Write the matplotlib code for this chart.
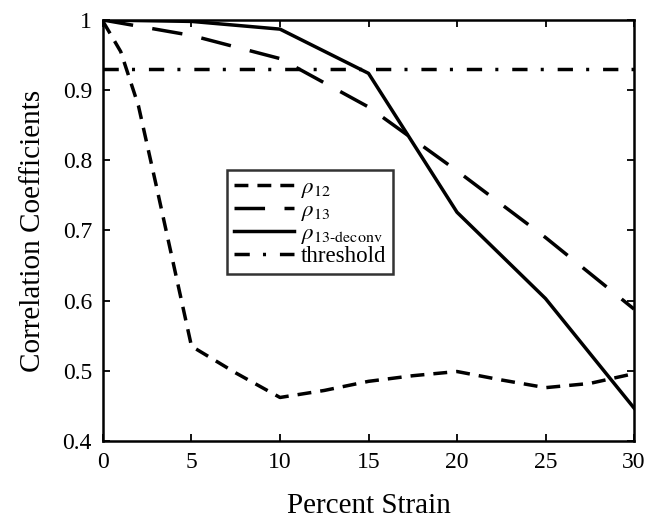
import numpy as np
import matplotlib
matplotlib.use("Agg")
import matplotlib.pyplot as plt

plt.rcParams['font.family'] = ['Liberation Serif', 'DejaVu Serif']
plt.rcParams['mathtext.fontset'] = 'stix'
plt.rcParams['lines.scale_dashes'] = False

# values
strain_12 = [0, 1, 2, 3, 4, 5, 7.5, 10, 12.5, 15, 17.5, 20, 22.5, 25, 27.5, 30]
rho12 = [0.998, 0.955, 0.878, 0.765, 0.65, 0.535, 0.497, 0.462, 0.472, 0.485,
         0.493, 0.499, 0.487, 0.476, 0.482, 0.496]
strain = [0, 5, 10, 15, 20, 25, 30]
rho13 = [1.0, 0.978, 0.945, 0.876, 0.785, 0.69, 0.588]
rho13_deconv = [1.0, 0.998, 0.987, 0.924, 0.726, 0.603, 0.447]
threshold = 0.93

fig = plt.figure(figsize=(6.49, 5.21), dpi=100)
ax = fig.add_axes([0.1587, 0.1536, 0.8182, 0.808])

ax.plot(strain_12, rho12, color='k', lw=2.5, dashes=(10, 6.5), label=r'$\rho_{12}$')
ax.plot(strain, rho13, color='k', lw=2.5, dashes=(22, 14), label=r'$\rho_{13}$')
ax.plot(strain, rho13_deconv, color='k', lw=2.5, label=r'$\rho_{13\mathrm{\text{-}deconv}}$')
ax.plot([0, 30], [threshold, threshold], color='k', lw=2.5,
        dashes=(11, 9.5, 2.2, 10), label='threshold')

ax.set_xlim(0, 30)
ax.set_ylim(0.4, 1.0)
ax.set_xticks([0, 5, 10, 15, 20, 25, 30])
ax.set_yticks([0.4, 0.5, 0.6, 0.7, 0.8, 0.9, 1.0])
ax.set_yticklabels(['0.4', '0.5', '0.6', '0.7', '0.8', '0.9', '1'])
ax.tick_params(direction='in', length=5, width=1.3, top=True, right=True,
               labelsize=17, pad=8)
for s in ax.spines.values():
    s.set_linewidth(1.8)

ax.set_xlabel('Percent Strain', fontsize=21, labelpad=14)
ax.set_ylabel('Correlation Coefficients', fontsize=21, labelpad=12)

leg = ax.legend(loc='upper left', bbox_to_anchor=(0.234, 0.644), fontsize=16.5,
                frameon=True, fancybox=False, edgecolor='k', handlelength=2.6,
                handletextpad=0.3, labelspacing=0.0, borderpad=0.3,
                borderaxespad=0)
leg.get_frame().set_linewidth(1.8)

fig.savefig('out.png', dpi=100)
